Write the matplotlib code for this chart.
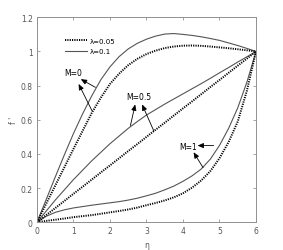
import matplotlib
matplotlib.use("Agg")
import matplotlib.pyplot as plt

eta = [0, 0.25, 0.5, 0.75, 1, 1.25, 1.5, 1.75, 2, 2.25, 2.5, 2.75, 3,
       3.25, 3.5, 3.75, 4, 4.25, 4.5, 4.75, 5, 5.25, 5.5, 5.75, 6]

# lambda = 0.1 (solid)
m0_l01 = [0, 0.132, 0.265, 0.395, 0.52, 0.635, 0.74, 0.835, 0.91, 0.97, 1.015, 1.048, 1.072,
          1.09, 1.102, 1.105, 1.10, 1.094, 1.086, 1.076, 1.065, 1.05, 1.035, 1.018, 1.0]
m05_l01 = [0, 0.065, 0.13, 0.19, 0.25, 0.305, 0.36, 0.41, 0.46, 0.505, 0.55, 0.59, 0.628,
           0.66, 0.692, 0.722, 0.752, 0.782, 0.812, 0.843, 0.875, 0.906, 0.938, 0.969, 1.0]
m1_l01 = [0, 0.035, 0.058, 0.073, 0.084, 0.092, 0.10, 0.107, 0.114, 0.121, 0.13, 0.141, 0.155,
          0.17, 0.19, 0.212, 0.24, 0.272, 0.312, 0.37, 0.45, 0.55, 0.67, 0.82, 1.0]

# lambda = 0.05 (dotted)
m0_l005 = [0, 0.108, 0.215, 0.322, 0.43, 0.535, 0.64, 0.73, 0.81, 0.87, 0.92, 0.957, 0.985,
           1.005, 1.02, 1.029, 1.034, 1.035, 1.033, 1.029, 1.024, 1.019, 1.013, 1.007, 1.0]
m05_l005 = [0, 0.042, 0.083, 0.125, 0.167, 0.208, 0.25, 0.292, 0.333, 0.375, 0.417, 0.458, 0.5,
            0.542, 0.583, 0.625, 0.667, 0.708, 0.75, 0.792, 0.833, 0.875, 0.917, 0.958, 1.0]
m1_l005 = [0, 0.008, 0.015, 0.022, 0.03, 0.036, 0.042, 0.05, 0.058, 0.066, 0.075, 0.086, 0.10,
           0.113, 0.128, 0.146, 0.17, 0.203, 0.245, 0.30, 0.375, 0.47, 0.59, 0.77, 1.0]

labels = ["M=0", "M=0.5", "M=1"]
label_pos = [(1.0, 0.875), (2.78, 0.735), (4.15, 0.445)]
arrow_heads = [[(1.2, 0.838), (1.14, 0.81)],
               [(2.69, 0.69), (2.88, 0.69)],
               [(4.4, 0.449), (4.29, 0.41)]]
arrow_tails = [[(1.6, 0.79), (1.51, 0.652)],
               [(2.56, 0.566), (3.2, 0.535)],
               [(4.84, 0.449), (4.55, 0.32)]]

fig = plt.figure(figsize=(2.83, 2.51), dpi=100)
ax = fig.add_axes([0.1307, 0.1104, 0.7739, 0.8166])

solid_c = "#555555"
for ys in (m0_l01, m05_l01, m1_l01):
    ax.plot(eta, ys, color=solid_c, lw=0.8)
for ys in (m0_l005, m05_l005, m1_l005):
    ax.plot(eta, ys, color="black", lw=1.4, linestyle=(0, (0.6, 0.6)))

# legend proxies
ax.plot([], [], color="black", lw=1.4, linestyle=(0, (0.6, 0.6)), label="λ=0.05")
ax.plot([], [], color=solid_c, lw=0.8, label="λ=0.1")
ax.legend(loc="upper left", bbox_to_anchor=(0.1, 0.93), frameon=False,
          fontsize=5, handlelength=3.2, handletextpad=0.3, labelspacing=0.6)

for lab, pos, heads, tails in zip(labels, label_pos, arrow_heads, arrow_tails):
    ax.text(pos[0], pos[1], lab, fontsize=5.5, ha="center", va="center", color="black")
    for h, t in zip(heads, tails):
        ax.annotate("", xy=h, xytext=t,
                    arrowprops=dict(arrowstyle="-|>,head_length=0.35,head_width=0.15",
                                    color="black", lw=0.6, shrinkA=0, shrinkB=0))

ax.set_xlim(0, 6)
ax.set_ylim(0, 1.2)
ax.set_xticks([0, 1, 2, 3, 4, 5, 6])
ax.set_yticks([0, 0.2, 0.4, 0.6, 0.8, 1.0, 1.2])
ax.set_yticklabels(["0", "0.2", "0.4", "0.6", "0.8", "1", "1.2"])
ax.tick_params(direction="in", top=True, right=True, labelsize=5.5, length=2.5,
               width=0.5, color="#808080", labelcolor="#555555", pad=3)
for s in ax.spines.values():
    s.set_color("#909090")
    s.set_linewidth(0.7)
ax.set_xlabel("η", fontsize=5.5, color="#555555", labelpad=3)
ax.set_ylabel("f '", fontsize=5.5, color="#555555", labelpad=2)

fig.savefig("out.png", dpi=100)
